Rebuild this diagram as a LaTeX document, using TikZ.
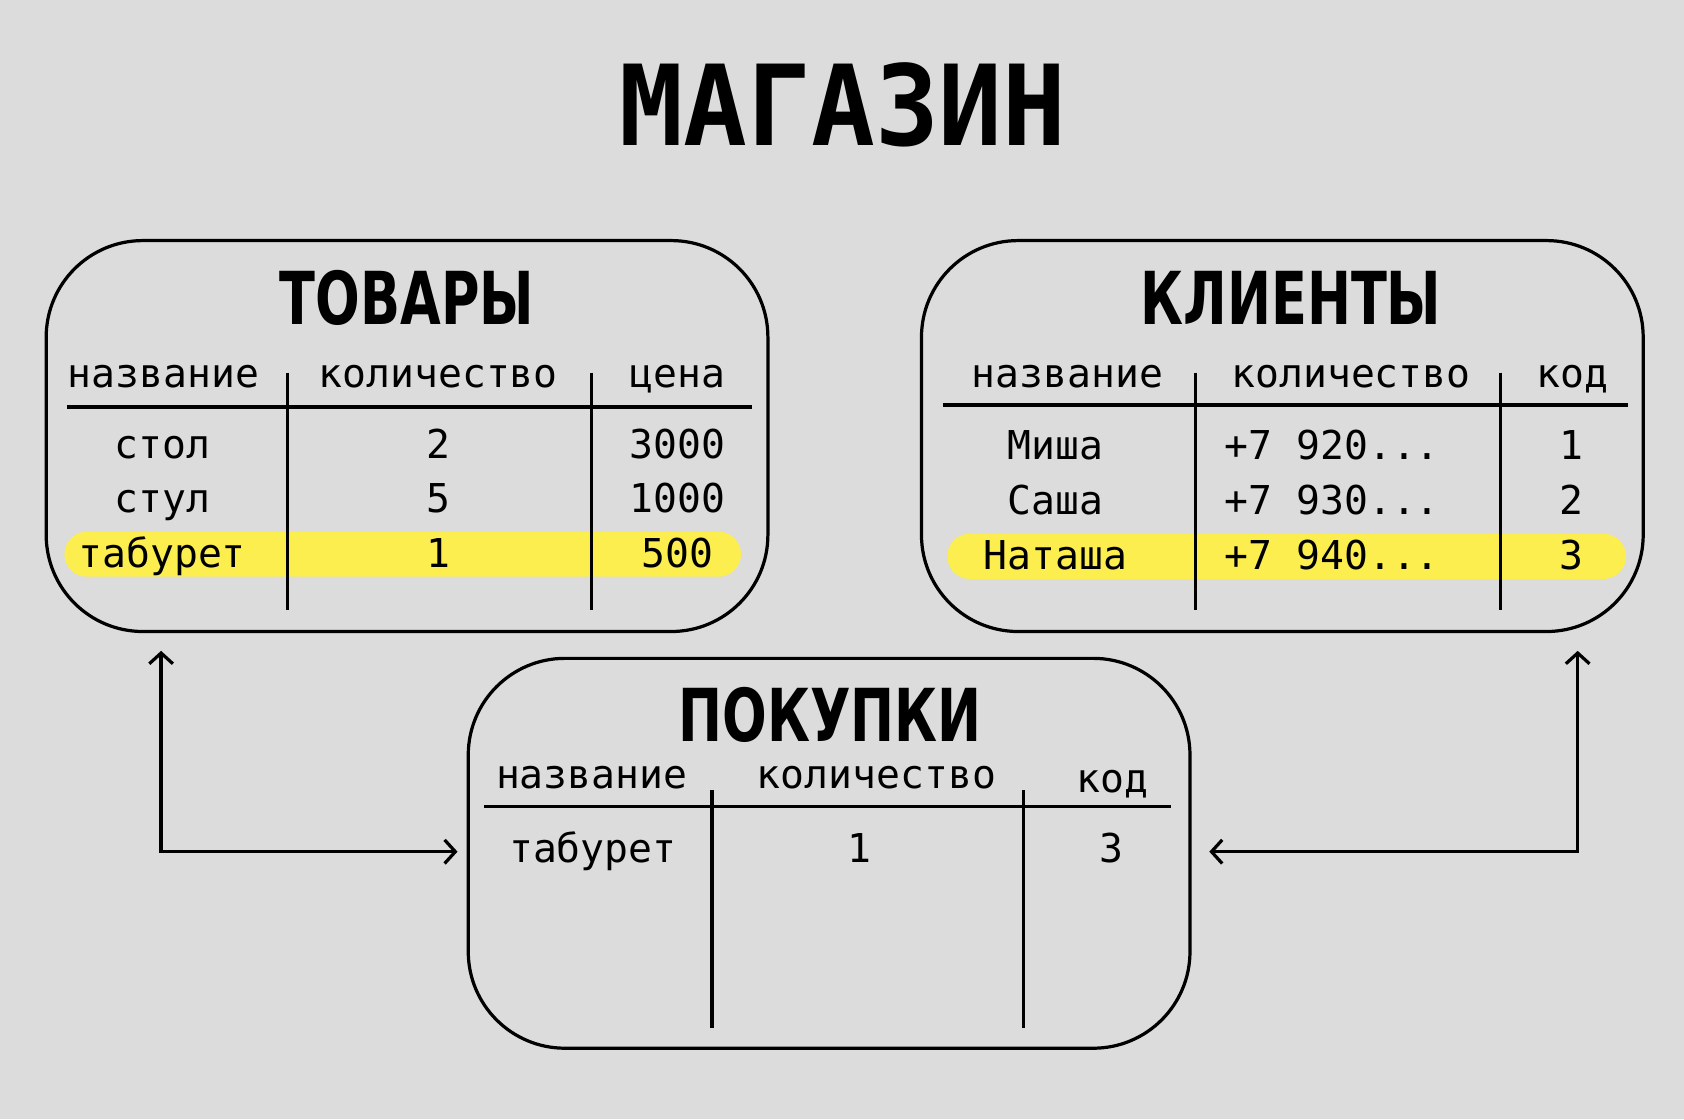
\documentclass[tikz,border=0pt]{standalone}
\usepackage{fontspec}
\setmonofont{DejaVu Sans Mono}
\newfontfamily\headfont{DejaVu Sans Condensed}
\usetikzlibrary{arrows.meta}
\definecolor{bg}{HTML}{DCDCDC}
\definecolor{hl}{HTML}{FCEE4E}
\tikzset{
 boxst/.style={draw=black,line width=3pt,rounded corners=90pt},
 ln/.style={line width=3pt},
 txt/.style={font=\ttfamily\fontsize{37}{37}\selectfont,inner sep=0pt,anchor=base},
 head/.style={font=\headfont\bfseries\fontsize{68}{68}\selectfont,inner sep=0pt,xscale=0.8},
 arr/.style={line width=3pt,{Straight Barb[length=10pt,width=22pt]}-{Straight Barb[length=10pt,width=22pt]}}
}
\begin{document}
\begin{tikzpicture}[x=1pt,y=-1pt]
\fill[bg] (0,0) rectangle (1568,1042);
\useasboundingbox (0,0) rectangle (1568,1042);
\node[font=\ttfamily\bfseries\fontsize{104}{104}\selectfont,inner sep=0pt,xscale=0.95] (title) at (785,98) {МАГАЗИН};
% boxes
\draw[boxst] (43,224) rectangle (715,588);
\draw[boxst] (858,224) rectangle (1530,588);
\draw[boxst] (436,613) rectangle (1108,976);
\node[head] (t1) at (379,277) {ТОВАРЫ};
\node[head] (t2) at (1202,277) {КЛИЕНТЫ};
\node[head] (t3) at (773,666) {ПОКУПКИ};
% highlights
\fill[hl,rounded corners=21pt] (60,495) rectangle (690,537);
\fill[hl,rounded corners=21pt] (882,497) rectangle (1514,539);
% table 1
\draw[ln] (62,379) -- (700,379);
\draw[ln] (268,347) -- (268,568);
\draw[ln] (551,347) -- (551,568);
\foreach \x/\t in {152/название,408/количество,631/цена} \node[txt] at (\x,361) {\t};
\foreach \y/\a/\b/\c in {427/стол/2/3000,477/стул/5/1000} {
 \node[txt] at (151,\y) {\a}; \node[txt] at (408,\y) {\b}; \node[txt] at (631,\y) {\c};}
\node[txt] at (151,528) {табурет}; \node[txt] at (408,528) {1}; \node[txt] at (631,528) {500};
% table 2
\draw[ln] (878,377) -- (1516,377);
\draw[ln] (1113,347) -- (1113,568);
\draw[ln] (1397,347) -- (1397,568);
\foreach \x/\t in {994/название,1258/количество,1464/код} \node[txt] at (\x,361) {\t};
\foreach \y/\a/\b/\c in {428/Миша/{+7 920...}/1,479/Саша/{+7 930...}/2,530/Наташа/{+7 940...}/3} {
 \node[txt] at (983,\y) {\a}; \node[txt,anchor=base west] at (1140,\y) {\b}; \node[txt] at (1463,\y) {\c};}
% table 3
\draw[ln] (451,751) -- (1090,751);
\draw[ln] (663,736) -- (663,957);
\draw[ln] (953,736) -- (953,957);
\node[txt] (h31) at (551,734) {название};
\node[txt] (h32) at (816,734) {количество};
\node[txt] (h33) at (1036,738) {код};
\node[txt] at (552,803) {табурет}; \node[txt] at (800,803) {1}; \node[txt] at (1035,803) {3};
% arrows
\coordinate (a1) at (150,606); \coordinate (a2) at (426,793);
\coordinate (b1) at (1469,606); \coordinate (b2) at (1126,793);
\draw[arr] (a1) |- (a2);
\draw[arr] (b1) |- (b2);
\end{tikzpicture}
\end{document}
